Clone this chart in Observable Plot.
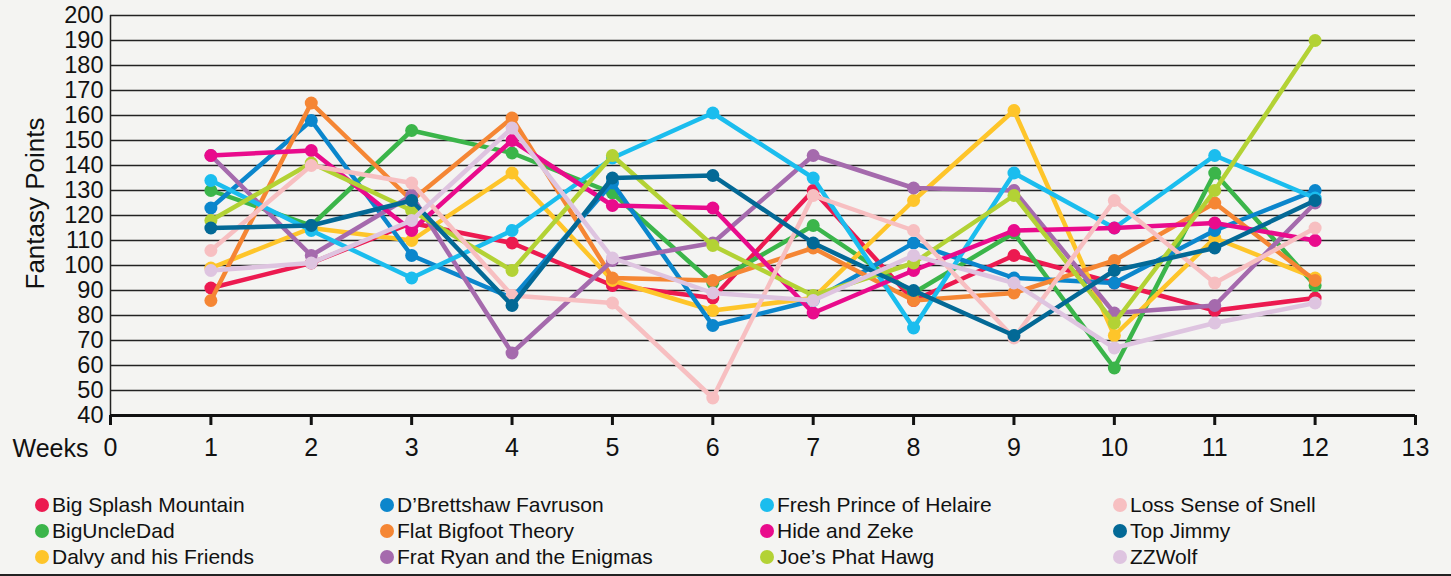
<!DOCTYPE html>
<html>
<head>
<meta charset="utf-8">
<script src="https://cdn.jsdelivr.net/npm/d3@7"></script>
<script src="https://cdn.jsdelivr.net/npm/@observablehq/plot@0.6"></script>
<style>
  html, body { margin: 0; padding: 0; background: #f4f4f2; }
  body { width: 1451px; height: 576px; position: relative; overflow: hidden; font-family: "Liberation Sans", Arial, sans-serif; }
  #chart svg { display: block; background: transparent; }
  #legend { position: absolute; left: 0; top: 470px; width: 1451px; height: 104px; border-bottom: 2px solid #222; }
  .item { position: absolute; display: flex; align-items: center; font-size: 21px; line-height: 24px; color: #111; white-space: nowrap; }
  .sw { width: 14px; height: 14px; border-radius: 50%; margin-right: 3px; }
</style>
</head>
<body>
<div id="chart"></div>
<div id="legend"></div>
<script>
const weeks = [1, 2, 3, 4, 5, 6, 7, 8, 9, 10, 11, 12];
const xTicks = [0, 1, 2, 3, 4, 5, 6, 7, 8, 9, 10, 11, 12, 13];
const yTicks = [40, 50, 60, 70, 80, 90, 100, 110, 120, 130, 140, 150, 160, 170, 180, 190, 200];

const teams = [
  "Big Splash Mountain", "BigUncleDad", "Dalvy and his Friends",
  "D\u2019Brettshaw Favruson", "Flat Bigfoot Theory", "Frat Ryan and the Enigmas",
  "Fresh Prince of Helaire", "Hide and Zeke", "Joe\u2019s Phat Hawg",
  "Loss Sense of Snell", "Top Jimmy", "ZZWolf"
];
const colors = [
  "#ec1a50", "#3bb54a", "#fec52a",
  "#0b86cc", "#f58634", "#a56aad",
  "#1bbdee", "#e90b8c", "#b3d235",
  "#f7bfc1", "#036996", "#dec4e0"
];

const bigSplash   = [91, 101, 117, 109, 92, 87, 130, 86, 104, 93, 82, 87];
const bigUncleDad = [130, 116, 154, 145, 129, 93, 116, 89, 113, 59, 137, 92];
const dalvy       = [99, 115, 110, 137, 94, 82, 87, 126, 162, 72, 111, 95];
const dBrettshaw  = [123, 158, 104, 87, 133, 76, 86, 109, 95, 93, 114, 130];
const flatBigfoot = [86, 165, 126, 159, 95, 94, 107, 86, 89, 102, 125, 94];
const fratRyan    = [144, 104, 128, 65, 102, 109, 144, 131, 130, 81, 84, 125];
const freshPrince = [134, 114, 95, 114, 143, 161, 135, 75, 137, 115, 144, 127];
const hideZeke    = [144, 146, 114, 150, 124, 123, 81, 98, 114, 115, 117, 110];
const joesHawg    = [118, 141, 122, 98, 144, 108, 88, 101, 128, 77, 130, 190];
const lossSense   = [106, 140, 133, 88, 85, 47, 128, 114, 71, 126, 93, 115];
const topJimmy    = [115, 116, 126, 84, 135, 136, 109, 90, 72, 98, 107, 126];
const zzWolf      = [98, 101, 118, 155, 103, 89, 86, 104, 93, 67, 77, 85];

const series = [bigSplash, bigUncleDad, dalvy, dBrettshaw, flatBigfoot, fratRyan,
                freshPrince, hideZeke, joesHawg, lossSense, topJimmy, zzWolf];

const teamMarks = [];
teams.forEach((team, i) => {
  const rows = weeks.map((w, j) => ({team, week: w, points: series[i][j]}));
  teamMarks.push(Plot.line(rows, {x: "week", y: "points", stroke: "team", strokeWidth: 4.5, strokeLinejoin: "round"}));
  teamMarks.push(Plot.dot(rows, {x: "week", y: "points", fill: "team", r: 6.5}));
});

const chart = Plot.plot({
  width: 1451,
  height: 470,
  marginLeft: 110,
  marginRight: 36,
  marginTop: 15,
  marginBottom: 55,
  style: {background: "transparent", fontFamily: "'Liberation Sans', Arial, sans-serif", color: "#111"},
  x: {domain: [0, 13]},
  y: {domain: [40, 200]},
  color: {domain: teams, range: colors},
  marks: [
    Plot.ruleY(yTicks.slice(1), {stroke: "#222", strokeWidth: 1.5}),
    Plot.ruleX([0], {stroke: "#222", strokeWidth: 1.5}),
    Plot.axisY({ticks: yTicks, tickSize: 0, tickPadding: 7, fontSize: 23.5, label: null}),
    Plot.text(["Fantasy Points"], {frameAnchor: "left", rotate: -90, dx: -75, dy: -12, fontSize: 26, fill: "#111", lineAnchor: "middle", textAnchor: "middle"}),
    Plot.axisX({ticks: xTicks, tickSize: 10, strokeWidth: 3, tickPadding: 13, fontSize: 25, label: null}),
    Plot.text(["Weeks"], {frameAnchor: "bottom-left", dx: -22, dy: 41, textAnchor: "end", fontSize: 25, fill: "#111"}),
    ...teamMarks,
    Plot.ruleY([40], {stroke: "#111", strokeWidth: 3})
  ]
});
document.getElementById("chart").appendChild(chart);

const legend = document.getElementById("legend");
const colX = [35, 380, 760, 1113];
const rowY = [35, 61, 87];
teams.forEach((team, i) => {
  const c = Math.floor(i / 3), r = i % 3;
  const el = document.createElement("div");
  el.className = "item";
  el.style.left = colX[c] + "px";
  el.style.top = (rowY[r] - 12) + "px";
  el.innerHTML = `<span class="sw" style="background:${colors[i]}"></span><span></span>`;
  el.lastChild.textContent = team;
  legend.appendChild(el);
});
</script>
</body>
</html>
